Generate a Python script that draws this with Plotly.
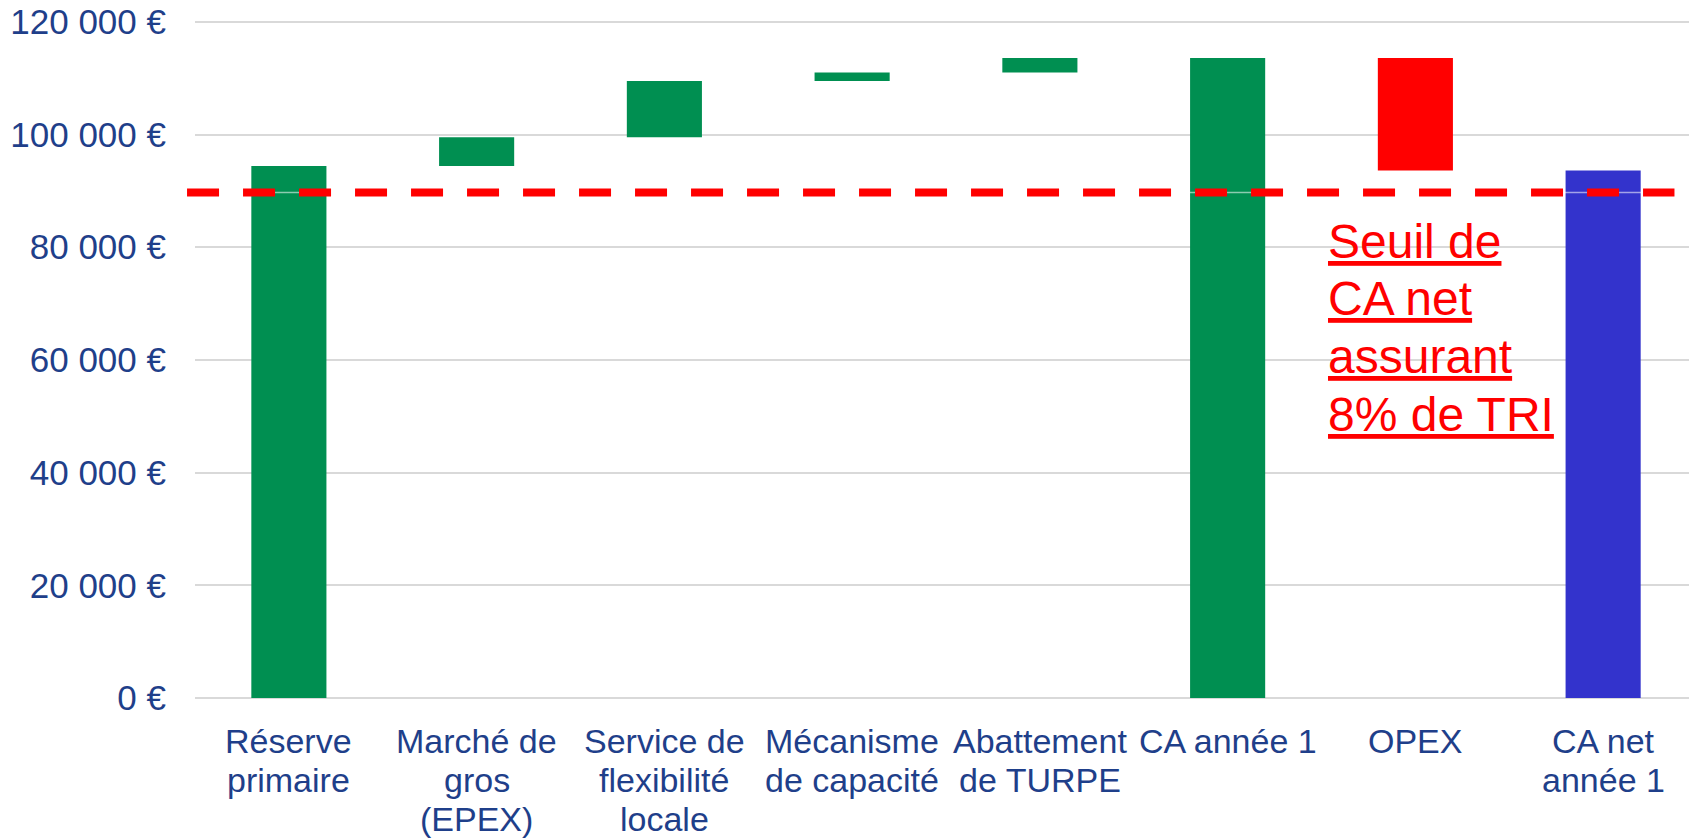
import plotly.graph_objects as go

# données (€)
categories = ["Réserve primaire", "Marché de gros (EPEX)", "Service de flexibilité locale",
              "Mécanisme de capacité", "Abattement de TURPE", "CA année 1", "OPEX", "CA net année 1"]
tick_labels = ["Réserve<br>primaire", "Marché de<br>gros<br>(EPEX)", "Service de<br>flexibilité<br>locale",
               "Mécanisme<br>de capacité", "Abattement<br>de TURPE", "CA année 1", "OPEX", "CA net<br>année 1"]
measures = ["absolute", "relative", "relative", "relative", "relative", "total", "relative", "total"]
values = [94400, 5100, 10000, 1500, 2600, 0, -20000, 0]
seuil_tri = 89700
y_ticks = [0, 20000, 40000, 60000, 80000, 100000, 120000]
y_tick_text = ["0 €", "20 000 €", "40 000 €", "60 000 €", "80 000 €", "100 000 €", "120 000 €"]
seuil_lines = ["Seuil de", "CA net", "assurant", "8% de TRI"]

green = "rgb(0,143,81)"
red = "rgb(255,0,0)"
blue = "rgb(51,51,204)"
txt = "rgb(31,63,138)"
font = "Arial, Liberation Sans, sans-serif"

# cascade : base + hauteur de chaque barre
bases, heights, colors = [], [], []
run = 0
for i, (m, v) in enumerate(zip(measures, values)):
    if m == "absolute":
        bases.append(0); heights.append(v); run = v
        colors.append(green)
    elif m == "total":
        bases.append(0); heights.append(run)
        colors.append(blue if i == len(values) - 1 else green)
    else:
        if v >= 0:
            bases.append(run); heights.append(v); colors.append(green)
        else:
            bases.append(run + v); heights.append(-v); colors.append(red)
        run += v

fig = go.Figure()
fig.add_trace(go.Bar(x=categories, y=heights, base=bases, marker=dict(color=colors, line=dict(width=0)),
                     width=0.4, showlegend=False))

# ligne fine + seuil en pointillés
fig.add_shape(type="line", xref="paper", yref="y", x0=0, x1=1, y0=seuil_tri, y1=seuil_tri,
              line=dict(color="rgba(255,255,255,0.55)", width=1.5), layer="above")
fig.add_shape(type="line", xref="paper", yref="y", x0=-0.0053, x1=0.985, y0=seuil_tri, y1=seuil_tri,
              line=dict(color=red, width=8, dash="32px,24px"), layer="above")

for i, line in enumerate(seuil_lines):
    fig.add_annotation(text="<u>" + line + "</u>", x=categories[6], xref="x", xshift=-89, y=seuil_tri,
                       yref="y", xanchor="left", yanchor="top", yshift=-(20 + i * 57.7), showarrow=False,
                       font=dict(family=font, size=48, color=red))

# étiquettes de l'axe x, ligne par ligne (interligne serré)
for cat, lab in zip(categories, tick_labels):
    for i, line in enumerate(lab.split("<br>")):
        fig.add_annotation(text=line, x=cat, xref="x", y=0, yref="paper", xanchor="center",
                           yanchor="top", yshift=-(22 + i * 39), showarrow=False,
                           font=dict(family=font, size=34, color=txt))

# la page a une marge de 8 px : on décale la figure
fig.update_layout(
    width=1689, height=830, margin=dict(l=187, r=0, t=11, b=140),
    plot_bgcolor="white", paper_bgcolor="white",
    font=dict(family=font, size=34, color=txt),
    bargap=0.6,
)
fig.update_xaxes(type="category", showticklabels=False, showgrid=False, ticks="", showline=False,
                 automargin=False)
fig.update_yaxes(range=[0, 120500], tickvals=y_ticks, ticktext=y_tick_text, showgrid=True,
                 gridcolor="rgb(217,217,217)", gridwidth=2, zeroline=True, zerolinecolor="rgb(217,217,217)",
                 zerolinewidth=2, ticks="", ticklabelstandoff=28, showline=False, ticklabeloverflow="allow",
                 automargin=False, tickfont=dict(family=font, size=35, color=txt))

fig.write_html("out.html")
